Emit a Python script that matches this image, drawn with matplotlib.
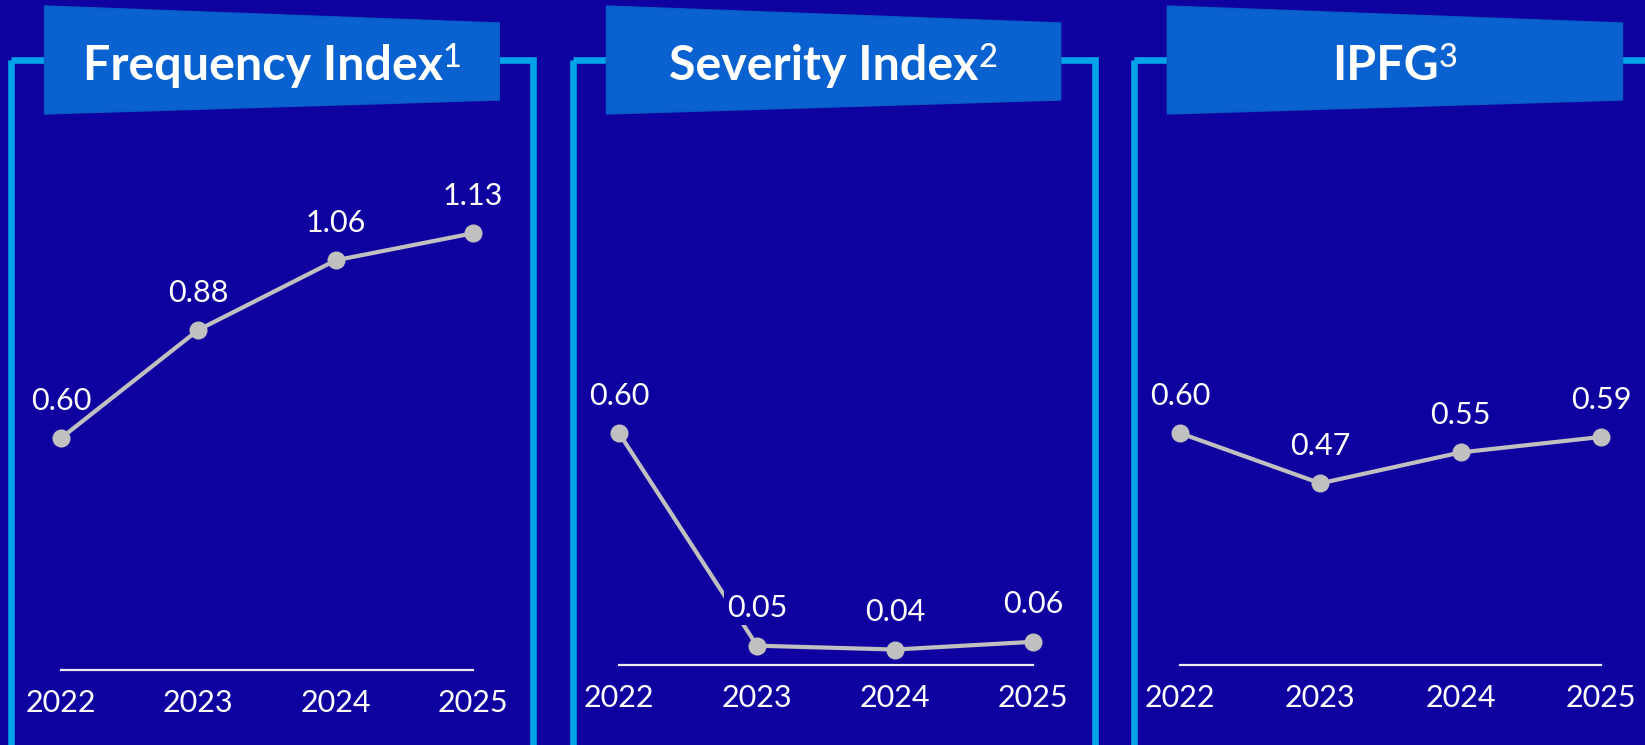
import matplotlib
matplotlib.use("Agg")
import matplotlib.pyplot as plt
from matplotlib.patches import Polygon, Rectangle

# ---- data -------------------------------------------------------------
years = ["2022", "2023", "2024", "2025"]
frequency_index = [0.60, 0.88, 1.06, 1.13]
severity_index = [0.60, 0.05, 0.04, 0.06]
ipfg = [0.60, 0.47, 0.55, 0.59]

titles = ["Frequency Index", "Severity Index", "IPFG"]
footnotes = ["1", "2", "3"]
series = [frequency_index, severity_index, ipfg]

# ---- style ------------------------------------------------------------
BG = "#0f01a0"
BANNER = "#0a62d0"
FRAME = "#00a2e8"
LINE = "#c0c0c0"
AXIS = "#ececf8"
FONT = "Lato"

W, H = 1645, 745
DPI = 100
PX_PER_UNIT = 386.5   # vertical scale shared by the three panels
YMAX = 1.4

fig = plt.figure(figsize=(W / DPI, H / DPI), dpi=DPI, facecolor=BG)

# full-figure layer in pixel units for frames and banners
deco = fig.add_axes([0, 0, 1, 1])
deco.set_xlim(0, W)
deco.set_ylim(H, 0)
deco.axis("off")
deco.patch.set_alpha(0)

# panel layout (pixels)
frames = [(11, 532.5), (573, 1095), (1134, 1665)]
banners = [(44.6, 499.3), (606.4, 1060.7), (1167.3, 1622.5)]
plot_spans = [(61, 473), (619, 1033), (1180, 1601)]
zero_y = [670, 665, 665]
# labels knock the line out behind them only where a segment runs under the text
label_knockout = [False, True, False]


def px_axes(x0, x1, y0):
    """Axes whose data x 0..3 maps to pixels x0..x1 and y=0 sits at pixel row y0."""
    height = YMAX * PX_PER_UNIT
    ax = fig.add_axes([x0 / W, (H - y0) / H, (x1 - x0) / W, height / H])
    ax.set_xlim(0, len(years) - 1)
    ax.set_ylim(0, YMAX)
    ax.patch.set_alpha(0)
    for s in ax.spines.values():
        s.set_visible(False)
    ax.set_yticks([])
    return ax


renderer = fig.canvas.get_renderer()

for k in range(3):
    fx0, fx1 = frames[k]
    deco.add_patch(Rectangle((fx0, 60), fx1 - fx0, 688, fill=False,
                             edgecolor=FRAME, linewidth=4.8, zorder=1))
    bx0, bx1 = banners[k]
    deco.add_patch(Polygon([(bx0, 6), (bx1, 23), (bx1, 100), (bx0, 114)],
                           closed=True, facecolor=BANNER, edgecolor="#0a5cc4",
                           linewidth=1.0, zorder=2))

    # title with superscript footnote, centred on the banner
    t = deco.text(0, 79.5, titles[k], fontsize=34.8, fontweight="bold",
                  family=FONT, color="white", ha="left", va="baseline", zorder=3)
    s = deco.text(0, 67, footnotes[k], fontsize=23.5, fontweight="medium",
                  family=FONT, color="white", ha="left", va="baseline", zorder=3)
    w1 = t.get_window_extent(renderer).width
    w2 = s.get_window_extent(renderer).width
    gap = 0
    cx = (bx0 + bx1) / 2
    x_start = cx - (w1 + gap + w2) / 2
    t.set_x(x_start)
    s.set_x(x_start + w1 + gap)

    px0, px1 = plot_spans[k]
    ax = px_axes(px0, px1, zero_y[k])

    # baseline axis with year labels
    ax.spines["bottom"].set_visible(True)
    ax.spines["bottom"].set_color(AXIS)
    ax.spines["bottom"].set_linewidth(1.6)
    ax.set_xticks(range(len(years)), years)
    ax.tick_params(axis="x", length=0, pad=30.2, labelsize=22,
                   labelcolor="white")
    for lab in ax.get_xticklabels():
        lab.set_fontfamily(FONT)
        lab.set_verticalalignment("baseline")

    # the series line with value labels
    xs = list(range(len(years)))
    ax.plot(xs, series[k], color=LINE, linewidth=3.0, marker="o",
            markersize=13, markerfacecolor=LINE, markeredgewidth=0,
            clip_on=False, zorder=2)
    for i, v in enumerate(series[k]):
        box = None
        if label_knockout[k]:
            box = dict(boxstyle="square,pad=0.1", facecolor=BG, edgecolor="none")
        ax.annotate(f"{v:.2f}", (i, v), xytext=(0, 20.4),
                    textcoords="offset points", ha="center", va="baseline",
                    fontsize=22, family=FONT, color="white", zorder=4,
                    bbox=box, annotation_clip=False)

fig.savefig("out.png", dpi=DPI, facecolor=BG)
